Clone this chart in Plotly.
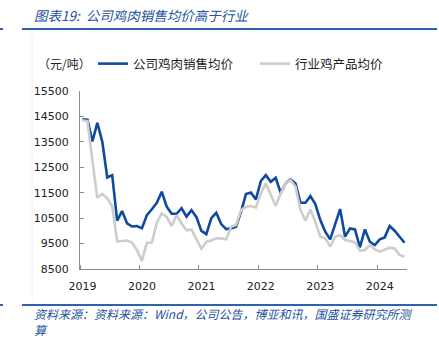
import plotly.graph_objects as go

# ---------------- data (monthly, Jan 2019 - Jun 2024) ----------------
years = ["2019", "2020", "2021", "2022", "2023", "2024"]
company_price = [
    14390, 14370, 13520, 14250, 13500, 12100, 12190, 10400, 10777, 10290, 10170, 10190,  # 2019
    10100, 10620, 10850, 11100, 11540, 10950, 10670, 10670, 10890, 10560, 10816, 10540,  # 2020
    10000, 9870, 10500, 10712, 10267, 10071, 10097, 10162, 10750, 11445, 11511, 11236,   # 2021
    11960, 12191, 11930, 12087, 11498, 11864, 12021, 11864, 11105, 11105, 11367, 11053,  # 2022
    10424, 9966, 9665, 10293, 10856, 9770, 10097, 10058, 9351, 10058, 9573, 9442,        # 2023
    9665, 9744, 10189, 10005, 9770, 9534,                                                # 2024
]
industry_price = [
    14350, 14320, 12780, 11300, 11450, 11280, 10970, 9590, 9600, 9620, 9540, 9240,       # 2019
    8820, 9530, 9540, 10310, 10685, 10550, 10185, 10620, 10290, 10030, 10050, 9650,      # 2020
    9300, 9573, 9620, 9704, 9704, 9665, 10162, 10228, 10817, 10948, 10974, 10922,        # 2021
    11471, 11864, 11406, 10974, 11471, 11864, 11995, 11733, 10817, 10398, 10843, 10359,  # 2022
    9770, 9704, 9377, 9770, 9835, 9639, 9600, 9547, 9220, 9246, 9442, 9272,             # 2023
    9181, 9272, 9338, 9312, 9050, 8984,                                                  # 2024
]
series_names = ["公司鸡肉销售均价", "行业鸡产品均价"]
y_ticks = [8500, 9500, 10500, 11500, 12500, 13500, 14500, 15500]
unit_label = "（元/吨）"
title_text = "图表19:  公司鸡肉销售均价高于行业"
source_text = "资料来源：资料来源：Wind，公司公告，博亚和讯，国盛证券研究所测<br>算"

months = list(range(len(company_price)))

# ---------------- layout geometry ----------------
FW, FH = 439, 340
L, R, T, B = 80, 32, 91, 71
PW, PH = FW - L - R, FH - T - B


def px(x):
    return (x - L) / PW


def py(y):
    return (FH - B - y) / PH


BLUE = "#0F4A9E"
GRAY = "#CDCDCD"
AXIS = "#8C8C8C"
TITLE_BLUE = "#2353A0"
CJK = "Noto Sans CJK SC"
NUM = "DejaVu Sans"

fig = go.Figure()
fig.add_trace(go.Scatter(x=months, y=company_price, mode="lines", name=series_names[0],
                         line=dict(color=BLUE, width=2.6)))
fig.add_trace(go.Scatter(x=months, y=industry_price, mode="lines", name=series_names[1],
                         line=dict(color=GRAY, width=2.6)))

fig.update_layout(
    width=FW, height=FH,
    margin=dict(l=L, r=R, t=T, b=B),
    paper_bgcolor="white", plot_bgcolor="white",
    showlegend=True,
    legend=dict(orientation="h", x=px(93), y=py(64), xanchor="left", yanchor="middle",
                font=dict(family=CJK, size=12.5, color="#222222"),
                bgcolor="rgba(0,0,0,0)", entrywidth=117, entrywidthmode="pixels",
                itemwidth=30),
    xaxis=dict(
        range=[-0.5, 65.5],
        tickmode="array", tickvals=[12 * i for i in range(len(years))], ticktext=years,
        ticks="", showgrid=False, zeroline=False,
        showline=True, linecolor=AXIS, linewidth=1.3,
        tickfont=dict(family=NUM, size=11, color="#222222"),
        ticklabelstandoff=7,
        minor=dict(tickmode="linear", tick0=-0.5, dtick=12, ticks="inside", ticklen=4,
                   tickcolor=AXIS, tickwidth=1.2, showgrid=False),
    ),
    yaxis=dict(
        range=[8500, 15500],
        tickmode="array", tickvals=y_ticks, ticktext=[str(v) for v in y_ticks],
        ticks="inside", ticklen=4, tickcolor=AXIS, tickwidth=1.2,
        showgrid=False, zeroline=False,
        showline=True, linecolor=AXIS, linewidth=1.3,
        tickfont=dict(family=NUM, size=11, color="#222222"),
        ticklabelstandoff=8,
    ),
)

annotations = [
    dict(text=title_text, x=px(32), y=py(15), xanchor="left", yanchor="middle",
         font=dict(family=CJK, size=13.5, color=TITLE_BLUE, style="italic")),
    dict(text=unit_label, x=px(36), y=py(64), xanchor="left", yanchor="middle",
         font=dict(family=CJK, size=12, color="#222222")),
    dict(text=source_text, x=px(32), y=py(321), xanchor="left", yanchor="middle", align="left",
         font=dict(family=CJK, size=12, color=TITLE_BLUE, style="italic")),
]
for a in annotations:
    a.update(xref="paper", yref="paper", showarrow=False)
fig.update_layout(annotations=annotations)

shapes = [
    dict(type="line", x0=px(22), x1=px(437), y0=py(29), y1=py(29), line=dict(color="#2E62AE", width=2)),
    dict(type="line", x0=px(0), x1=px(3), y0=py(29), y1=py(29), line=dict(color="#2E62AE", width=2)),
    dict(type="line", x0=px(22), x1=px(437), y0=py(305), y1=py(305), line=dict(color="#2E62AE", width=2)),
    dict(type="line", x0=px(0), x1=px(3), y0=py(305), y1=py(305), line=dict(color="#2E62AE", width=2)),
    dict(type="line", x0=px(32), x1=px(32), y0=py(33), y1=py(300), line=dict(color="#F0F0F0", width=1)),
]
for s in shapes:
    s.update(xref="paper", yref="paper", layer="below")
fig.update_layout(shapes=shapes)

fig.write_html("out.html")
